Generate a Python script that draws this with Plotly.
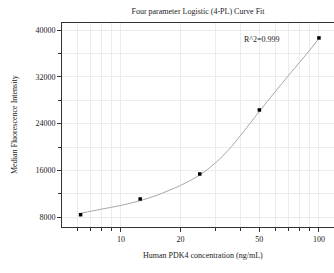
import plotly.graph_objects as go

# Data
conc = [6.25, 12.5, 25, 50, 100]
mfi = [8440, 11130, 15400, 26340, 38650]

# Fitted curve
curve_x = [6.25, 8, 10, 12.5, 15, 17.5, 20, 25, 30, 35, 40, 50, 60, 70, 80, 90, 100]
curve_y = [8684, 9400, 10030, 10840, 11700, 12600, 13450, 15230, 17300, 19550, 21900,
           26100, 29430, 32180, 34530, 36580, 38600]

x_major = [10, 20, 50, 100]
x_major_text = ["10", "20", "50", "100"]
x_minor = [6, 7, 8, 9, 30, 40, 60, 70, 80, 90]

title_text = "Four parameter Logistic (4-PL) Curve Fit"
x_title = "Human PDK4 concentration (ng/mL)"
y_title = "Median Fluorescence Intensity"
r2_text = "R^2=0.999"

FONT = "Liberation Serif"
W, H = 334, 273
L, R, T, B = 62, 0, 23, 46

fig = go.Figure()
fig.add_trace(go.Scatter(x=curve_x, y=curve_y, mode="lines",
                         line=dict(color="#a8a8a8", width=1, shape="spline", smoothing=1.0),
                         hoverinfo="skip", showlegend=False))
fig.add_trace(go.Scatter(x=conc, y=mfi, mode="markers",
                         marker=dict(color="black", size=3.5, symbol="square"),
                         showlegend=False))

fig.update_layout(
    width=W, height=H,
    margin=dict(l=L, r=R, t=T, b=B, pad=0, autoexpand=False),
    paper_bgcolor="white", plot_bgcolor="white",
    font=dict(family=FONT, size=8, color="#222222"),
    title=dict(text=title_text, x=(L + (W - L) / 2) / W, xanchor="center",
               y=1 - 11 / H, yanchor="middle", yref="container",
               font=dict(family=FONT, size=8, color="#222222")),
)

fig.update_xaxes(
    type="log", range=[0.702, 2.076], automargin=False,
    tickmode="array", tickvals=x_major, ticktext=x_major_text,
    ticks="outside", ticklen=4, tickcolor="#333333", tickwidth=1,
    showline=True, linecolor="#333333", linewidth=1, mirror=True,
    showgrid=True, gridcolor="#ececec", gridwidth=1,
    zeroline=False,
    tickfont=dict(family=FONT, size=8, color="#222222"),
    minor=dict(tickmode="array", tickvals=x_minor, ticks="outside", ticklen=3,
               tickcolor="#333333", showgrid=True, gridcolor="#ececec", gridwidth=1),
)
fig.update_yaxes(
    range=[6340, 41200], tick0=0, dtick=8000, tickformat="d", automargin=False,
    ticks="outside", ticklen=4, tickcolor="#333333", tickwidth=1,
    showline=True, linecolor="#333333", linewidth=1, mirror=False,
    showgrid=True, gridcolor="#ececec", gridwidth=1,
    zeroline=False,
    tickfont=dict(family=FONT, size=8, color="#222222"),
    minor=dict(dtick=4000, ticks="outside", ticklen=3, tickcolor="#333333",
               showgrid=True, gridcolor="#ececec", gridwidth=1),
)

pw = W - L - R
ph = H - T - B
fig.add_annotation(text=x_title, xref="paper", yref="paper",
                   x=(203 - L) / pw, y=-(255 - (H - B)) / ph,
                   showarrow=False, xanchor="center", yanchor="middle",
                   font=dict(family=FONT, size=8, color="#222222"))
fig.add_annotation(text=y_title, xref="paper", yref="paper",
                   x=-(L - 14) / pw, y=0.5, textangle=-90,
                   showarrow=False, xanchor="center", yanchor="middle",
                   font=dict(family=FONT, size=8, color="#222222"))
fig.add_annotation(text=r2_text, xref="paper", yref="paper",
                   x=(262 - L) / pw, y=((H - B) - 39) / ph,
                   showarrow=False, xanchor="center", yanchor="middle",
                   font=dict(family=FONT, size=8, color="#222222"))

fig.write_html("out.html", config={"displayModeBar": False},
               post_script="document.body.style.margin='0';")
